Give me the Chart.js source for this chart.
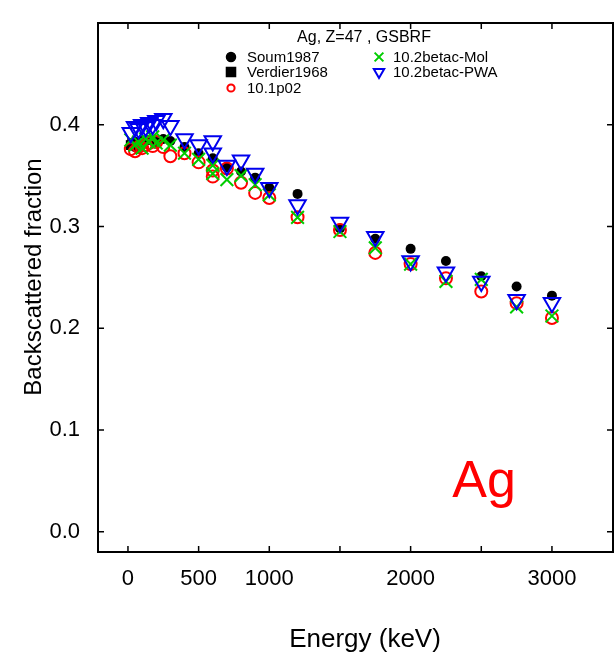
<!DOCTYPE html>
<html><head><meta charset="utf-8">
<script src="https://cdn.jsdelivr.net/npm/chart.js@4/dist/chart.umd.min.js"></script>
<style>html,body{margin:0;padding:0;background:#fff}</style>
</head><body>
<canvas id="c" width="615" height="655" style="display:block;width:615px;height:655px"></canvas>
<script>
// ---- data ----
const soumEnergy = [50,100,150,200,250,300,400,500,600,700,800,900,1000,1200,1500,1750,2000,2250,2500,2750,3000];
const soumFrac   = [0.378,0.381,0.385,0.383,0.386,0.384,0.378,0.372,0.367,0.358,0.354,0.348,0.338,0.332,0.298,0.288,0.278,0.266,0.251,0.241,0.232];

const verdierEnergy = [20,30,40,60,80,100];
const verdierFrac   = [0.380,0.382,0.381,0.383,0.382,0.384];

const simEnergy = [20,50,75,100,125,150,175,200,250,300,400,500,600,600,700,800,900,1000,1200,1500,1750,2000,2250,2500,2750,3000];
const p02Frac   = [0.376,0.374,0.378,0.377,0.380,0.382,0.379,0.383,0.378,0.369,0.372,0.363,0.355,0.349,0.357,0.343,0.333,0.328,0.309,0.2965,0.274,0.263,0.249,0.236,0.2246,0.210];
const molFrac   = [0.385,0.380,0.383,0.377,0.386,0.383,0.388,0.382,0.385,0.380,0.372,0.366,0.360,0.352,0.346,0.350,0.341,0.331,0.309,0.295,0.279,0.263,0.246,0.248,0.221,0.212];
const pwaFrac   = [0.392,0.398,0.396,0.400,0.398,0.402,0.400,0.404,0.406,0.399,0.386,0.380,0.384,0.372,0.360,0.365,0.352,0.338,0.321,0.304,0.290,0.266,0.255,0.246,0.228,0.225];

const xTickValues = [0,500,1000,1500,2000,2500,3000];
const xLabelTicks = [0,500,1000,2000,3000];
const yTickValues = [0.0,0.1,0.2,0.3,0.4];
const plotTitle = 'Ag, Z=47 , GSBRF';
const elementLabel = 'Ag';
const xTitle = 'Energy (keV)';
const yTitle = 'Backscattered fraction';

const FONT = '"Liberation Sans", Arial, Helvetica, sans-serif';
const toPts = (xs, ys) => xs.map((x, i) => ({x: x, y: ys[i]}));

const datasets = [
  {label:'Soum1987', data: toPts(soumEnergy, soumFrac), pointStyle:'circle', pointRadius:5,
   backgroundColor:'#000', borderColor:'#000', borderWidth:0, order:5, legendRadius:4.5, legendPos:[0,0]},
  {label:'Verdier1968', data: toPts(verdierEnergy, verdierFrac), pointStyle:'rect', pointRadius:7,
   backgroundColor:'#000', borderColor:'#000', borderWidth:0, order:4, legendRadius:6.4, legendPos:[0,1]},
  {label:'10.1p02', data: toPts(simEnergy, p02Frac), pointStyle:'circle', pointRadius:6,
   backgroundColor:'rgba(0,0,0,0)', borderColor:'#FF0000', borderWidth:2, order:3, legendRadius:3.6, legendPos:[0,2]},
  {label:'10.2betac-Mol', data: toPts(simEnergy, molFrac), pointStyle:'crossRot', pointRadius:9,
   backgroundColor:'rgba(0,0,0,0)', borderColor:'#00CD00', borderWidth:2, order:2, legendRadius:6.2, legendPos:[1,0]},
  {label:'10.2betac-PWA', data: toPts(simEnergy, pwaFrac), pointStyle:'triangle', pointRotation:180, pointRadius:9.5,
   backgroundColor:'rgba(0,0,0,0)', borderColor:'#0000EE', borderWidth:2, order:1, legendRadius:6, legendPos:[1,1]}
];
datasets.forEach(d => { d.showLine = false; d.pointBackgroundColor = d.backgroundColor; d.pointBorderColor = d.borderColor; d.pointBorderWidth = d.borderWidth; d.pointHoverRadius = d.pointRadius; });

function drawSymbol(ctx, style, x, y, r, rot) {
  if (Chart.helpers && Chart.helpers.drawPoint) {
    Chart.helpers.drawPoint(ctx, {pointStyle: style, radius: r, rotation: rot || 0, borderWidth: ctx.lineWidth}, x, y);
  }
}

const framePlugin = {
  id: 'frame',
  afterDatasetsDraw(chart) {
    const ctx = chart.ctx, a = chart.chartArea;
    const xs = chart.scales.x, ys = chart.scales.y;
    ctx.save();
    ctx.strokeStyle = '#000';
    ctx.lineWidth = 2;
    ctx.strokeRect(a.left, a.top, a.right - a.left, a.bottom - a.top);
    ctx.lineWidth = 1.5;
    const tl = 6;
    ctx.beginPath();
    xs.ticks.forEach(t => {
      const px = xs.getPixelForValue(t.value);
      ctx.moveTo(px, a.bottom); ctx.lineTo(px, a.bottom - tl);
      ctx.moveTo(px, a.top); ctx.lineTo(px, a.top + tl);
    });
    ys.ticks.forEach(t => {
      const py = ys.getPixelForValue(t.value);
      ctx.moveTo(a.left, py); ctx.lineTo(a.left + tl, py);
      ctx.moveTo(a.right, py); ctx.lineTo(a.right - tl, py);
    });
    ctx.stroke();

    // title inside plot
    ctx.fillStyle = '#000';
    ctx.font = '16px ' + FONT;
    ctx.textAlign = 'center';
    ctx.textBaseline = 'middle';
    ctx.fillText(plotTitle, 364, 38);

    // legend (two columns)
    const colSym = [231, 379], colTxt = [247, 393], rowY = [57, 72, 88];
    ctx.font = '15px ' + FONT;
    ctx.textAlign = 'left';
    chart.data.datasets.forEach(d => {
      const [c, r] = d.legendPos;
      const x = colSym[c], y = rowY[r];
      ctx.save();
      ctx.fillStyle = d.backgroundColor;
      ctx.strokeStyle = d.borderColor;
      ctx.lineWidth = d.borderWidth;
      drawSymbol(ctx, d.pointStyle, x, y, d.legendRadius, d.pointRotation);
      ctx.restore();
      ctx.fillStyle = '#000';
      ctx.fillText(d.label, colTxt[c], y + 1);
    });

    // element label
    ctx.fillStyle = '#FF0000';
    ctx.font = '52px ' + FONT;
    ctx.textAlign = 'center';
    ctx.textBaseline = 'alphabetic';
    ctx.fillText(elementLabel, 484, 497);

    // axis titles
    ctx.fillStyle = '#000';
    ctx.font = '26px ' + FONT;
    ctx.fillText(xTitle, 365, 647);
    ctx.font = '24px ' + FONT;
    ctx.save();
    ctx.translate(41, 277);
    ctx.rotate(-Math.PI / 2);
    ctx.fillText(yTitle, 0, 0);
    ctx.restore();
    ctx.restore();
  }
};

new Chart(document.getElementById('c'), {
  type: 'scatter',
  data: {datasets: datasets},
  options: {
    responsive: false,
    animation: false,
    events: [],
    layout: {autoPadding: false, padding: {top: 23, right: 2, left: 0, bottom: 0}},
    plugins: {legend: {display: false}, tooltip: {enabled: false}, title: {display: false}},
    scales: {
      x: {
        type: 'linear', position: 'bottom', min: -212, max: 3432,
        grid: {display: false, drawTicks: false}, border: {display: false},
        ticks: {
          autoSkip: false, maxRotation: 0, padding: 14,
          color: '#000', font: {family: FONT, size: 22},
          callback: v => xLabelTicks.includes(v) ? String(v) : ''
        },
        title: {display: false},
        afterBuildTicks: s => { s.ticks = xTickValues.map(v => ({value: v})); },
        afterFit: s => { s.height = 103; s.paddingLeft = 0; s.paddingRight = 0; }
      },
      y: {
        type: 'linear', position: 'left', min: -0.02, max: 0.5,
        grid: {display: false, drawTicks: false}, border: {display: false},
        ticks: {
          autoSkip: false, padding: 18,
          color: '#000', font: {family: FONT, size: 22},
          callback: v => v.toFixed(1)
        },
        title: {display: false},
        afterBuildTicks: s => { s.ticks = yTickValues.map(v => ({value: v})); },
        afterFit: s => { s.width = 98; s.paddingTop = 0; s.paddingBottom = 0; }
      }
    }
  },
  plugins: [framePlugin]
});
</script>
</body></html>
